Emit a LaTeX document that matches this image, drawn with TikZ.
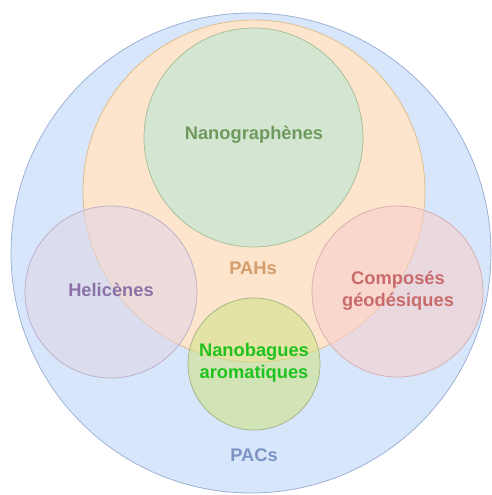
\documentclass[tikz,border=0pt]{standalone}
\usepackage{fontspec}
\setmainfont{Liberation Sans}
\definecolor{pacfill}{HTML}{D7E6FA}
\definecolor{pacline}{HTML}{9BAED4}
\definecolor{pahfill}{HTML}{FDE4CD}
\definecolor{pahline}{HTML}{DDBD88}
\definecolor{ngfill}{HTML}{D4E6D2}
\definecolor{ngline}{HTML}{A6BF97}
\definecolor{helfill}{HTML}{E1D5E7}
\definecolor{helline}{HTML}{BDB0C8}
\definecolor{geofill}{HTML}{F8CECC}
\definecolor{geoline}{HTML}{D7AEAD}
\definecolor{nbfill}{HTML}{D0E38A}
\definecolor{nbline}{HTML}{A4B487}
\definecolor{pactext}{HTML}{7C94C4}
\definecolor{pahtext}{HTML}{D39D6C}
\definecolor{ngtext}{HTML}{6E9A5F}
\definecolor{heltext}{HTML}{8A72A6}
\definecolor{geotext}{HTML}{C96B6B}
\definecolor{nbtext}{HTML}{1FC21F}
\tikzset{
  ring/.style={circle, inner sep=0pt, outer sep=0pt, line width=0.75pt},
  lbl/.style={font=\fontsize{18.3}{22.5}\selectfont\bfseries, align=center, inner sep=0pt}
}
\begin{document}
\begin{tikzpicture}[x=1pt, y=-1pt]
\useasboundingbox (0,0) rectangle (491,495);
\fill[white] (0,0) rectangle (491,495);
\node[ring, draw=pacline, fill=pacfill, minimum size=480pt] (pac) at (251,253) {};
\node[ring, draw=pahline, fill=pahfill, minimum size=342pt] (pah) at (254,191) {};
\node[ring, draw=ngline, fill=ngfill, minimum size=219pt] (ng) at (253.5,137.5) {};
\node[ring, draw=helline, fill=helfill, fill opacity=0.55, minimum size=172pt] (hel) at (111,292) {};
\node[ring, draw=geoline, fill=geofill, fill opacity=0.55, minimum size=171pt] (geo) at (397.5,291.5) {};
\node[ring, draw=nbline, fill=nbfill, fill opacity=0.6, minimum size=132pt] (nb) at (254,364) {};
\node[lbl, text=ngtext] (tng) at (254,135) {Nanographènes};
\node[lbl, text=pahtext] (tpah) at (253,268) {PAHs};
\node[lbl, text=heltext] (thel) at (111,290) {Helicènes};
\node[lbl, text=geotext] (tgeo) at (398,290.5) {Composés\\géodésiques};
\node[lbl, text=nbtext] (tnb) at (254,363) {Nanobagues\\aromatiques};
\node[lbl, text=pactext] (tpac) at (254,455) {PACs};
\end{tikzpicture}
\end{document}
